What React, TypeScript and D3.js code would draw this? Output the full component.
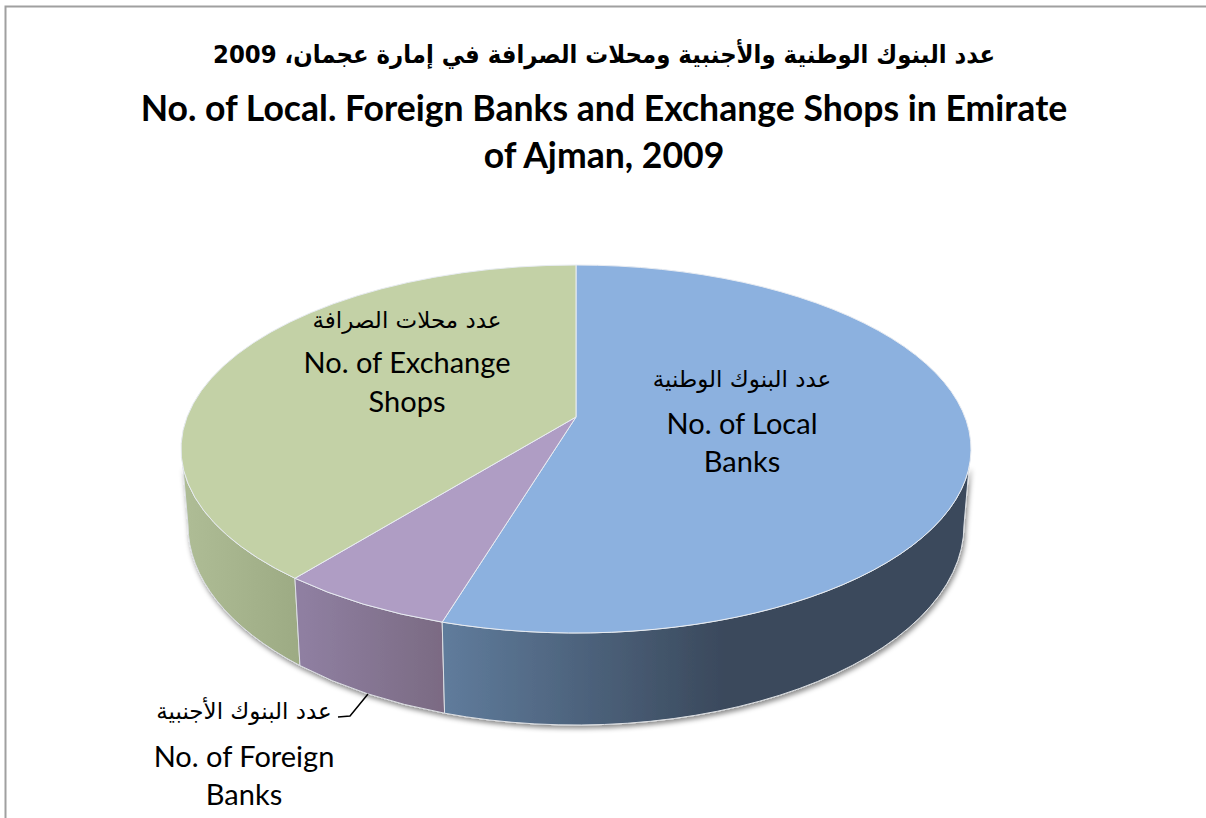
import React from "react";
import * as d3 from "d3";

const W = 1206;
const H = 818;

const categories = ["Local Banks", "Foreign Banks", "Exchange Shops"];
const seriesValues = [55.5, 7.1, 37.4];
const topColors = ["#8CB1DF", "#AF9DC4", "#C3D1A6"];
const wallFrom = ["#5F7B9B", "#8F7FA1", "#AEBC95"];
const wallTo = ["#3A495C", "#7A6A82", "#9CAA83"];
const titleAr = "عدد البنوك الوطنية والأجنبية ومحلات الصرافة في إمارة عجمان، 2009";
const titleEn = ["No. of Local. Foreign Banks and Exchange Shops in Emirate", "of Ajman, 2009"];
const labelAr = ["عدد البنوك الوطنية", "عدد البنوك الأجنبية", "عدد محلات الصرافة"];
const labelEn = [["No. of Local", "Banks"], ["No. of Foreign", "Banks"], ["No. of Exchange", "Shops"]];

const AR_FONT = "'DejaVu Sans', sans-serif";
const EN_FONT = "Lato, 'Open Sans', sans-serif";

// layout of the projected pie
const cx = 576;
const apexY = 417;
const top = { cy: 449, rx: 395, ry: 184 };
const bottom = { cy: 525, rx: 388, ry: 200 };
const wallStart = (95.7 * Math.PI) / 180;
const wallEnd = (264.3 * Math.PI) / 180;
const labelAnchors = [
  { x: 742, arY: 387, enY: [434, 472] },
  { x: 244, arY: 719, enY: [767, 805] },
  { x: 407, arY: 328, enY: [373, 412] },
];

const at = (e: typeof top, t: number): [number, number] => [cx + e.rx * Math.sin(t), e.cy - e.ry * Math.cos(t)];
const arc = (e: typeof top, t0: number, t1: number) => {
  const [x, y] = at(e, t1);
  const large = Math.abs(t1 - t0) > Math.PI ? 1 : 0;
  const sweep = t1 > t0 ? 1 : 0;
  return `A${e.rx},${e.ry} 0 ${large} ${sweep} ${x},${y}`;
};

const pie = d3.pie<number>().sort(null).startAngle(0).endAngle(2 * Math.PI);
const slices = pie(seriesValues);

const topPath = (a0: number, a1: number) => {
  const [x0, y0] = at(top, a0);
  return `M${cx},${apexY} L${x0},${y0} ${arc(top, a0, a1)} Z`;
};
const wallPath = (a0: number, a1: number) => {
  const t0 = Math.max(a0, wallStart);
  const t1 = Math.min(a1, wallEnd);
  const b0 = Math.max(a0, Math.PI / 2);
  const b1 = Math.min(a1, (3 * Math.PI) / 2);
  const [x0, y0] = at(top, t0);
  const [bx1, by1] = at(bottom, b1);
  const [bx0, by0] = at(bottom, b0);
  return `M${x0},${y0} ${arc(top, t0, t1)} L${bx1},${by1} ${arc(bottom, b1, b0)} L${bx0},${by0} Z`;
};

const gradientStops = [
  { x1: 447, x2: 725 },
  { x1: 303, x2: 447 },
  { x1: 188, x2: 303 },
];

export default function App() {
  return (
    <svg width={W} height={H} style={{ position: "absolute", left: 0, top: 0, background: "#fff" }}>
      <defs>
        {categories.map((c, i) => (
          <linearGradient key={c} id={`wall${i}`} gradientUnits="userSpaceOnUse" x1={gradientStops[i].x1} x2={gradientStops[i].x2} y1={0} y2={0}>
            <stop offset="0" stopColor={wallFrom[i]} />
            <stop offset="1" stopColor={wallTo[i]} />
          </linearGradient>
        ))}
        <filter id="shadow" x="-10%" y="-10%" width="120%" height="130%">
          <feDropShadow dx="1.5" dy="3" stdDeviation="2.5" floodColor="#000" floodOpacity="0.45" />
        </filter>
      </defs>

      <path d={`M5.5,${H} L5.5,6.5 L${W},6.5`} fill="none" stroke="#a0a0a0" strokeWidth={2} />

      <text x={604} y={63} textAnchor="middle" direction="rtl" fontFamily={AR_FONT} fontWeight={700} fontSize={25} textLength={782} lengthAdjust="spacingAndGlyphs" fill="#000">
        {titleAr}
      </text>
      {titleEn.map((t, i) => (
        <text key={t} x={604} y={121 + i * 47} textAnchor="middle" fontFamily={EN_FONT} fontWeight={700} fontSize={35.6} fill="#000">
          {t}
        </text>
      ))}

      <g filter="url(#shadow)">
        {slices.map((s, i) => ({ s, i })).reverse().map(({ s, i }) => (
          <path key={i} d={wallPath(s.startAngle, s.endAngle)} fill={`url(#wall${i})`} stroke="#dcdfe3" strokeWidth={1} strokeLinejoin="round" />
        ))}
      </g>
      {slices.map((s, i) => (
        <path key={i} d={topPath(s.startAngle, s.endAngle)} fill={topColors[i]} stroke="#e8ecf2" strokeWidth={1} strokeLinejoin="round" />
      ))}

      <path d={d3.line()([[368, 694], [350, 716], [338, 717]]) ?? ""} fill="none" stroke="#000" strokeWidth={1.5} />

      {categories.map((c, i) => (
        <g key={c} fill="#000" textAnchor="middle">
          <text x={labelAnchors[i].x} y={labelAnchors[i].arY} direction="rtl" fontFamily={AR_FONT} fontSize={23}>
            {labelAr[i]}
          </text>
          {labelEn[i].map((t, j) => (
            <text key={t} x={labelAnchors[i].x} y={labelAnchors[i].enY[j]} fontFamily={EN_FONT} fontSize={29}>
              {t}
            </text>
          ))}
        </g>
      ))}
    </svg>
  );
}
